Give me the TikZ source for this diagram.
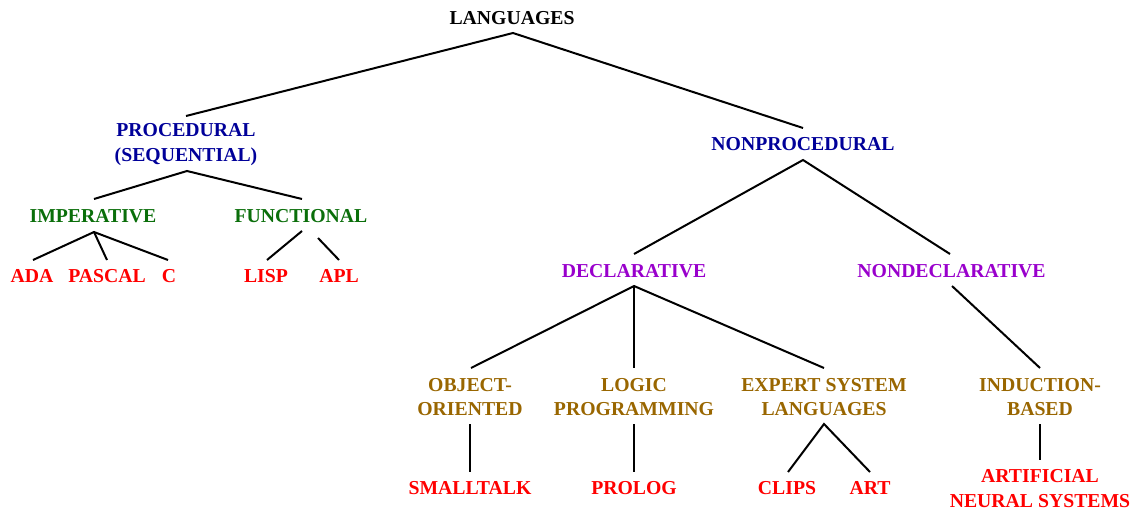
\documentclass[tikz,border=0pt]{standalone}
\usepackage{fontspec}
\setmainfont{Liberation Serif}
\usetikzlibrary{calc}
\definecolor{rootc}{RGB}{0,0,0}
\definecolor{lvlone}{RGB}{0,0,153}
\definecolor{lvlgreen}{RGB}{10,110,10}
\definecolor{lvlpurple}{RGB}{153,0,204}
\definecolor{lvlbrown}{RGB}{153,102,0}
\definecolor{leafred}{RGB}{255,0,0}
\begin{document}
\begin{tikzpicture}[x=0.75pt,y=-0.75pt,
  lbl/.style={inner sep=0pt,align=center,font=\fontsize{14.8}{18.5}\selectfont\bfseries},
  root/.style={lbl,text=rootc},
  cat/.style={lbl,text=lvlone},
  sub/.style={lbl,text=lvlgreen},
  kind/.style={lbl,text=lvlpurple},
  fam/.style={lbl,text=lvlbrown},
  leaf/.style={lbl,text=leafred},
  link/.style={line width=1.5pt,black}]
\useasboundingbox (0,0) rectangle (1134,510);

% labels
\node[root] (lang) at (512,18) {LANGUAGES};
\node[cat] (proc) at (186,144.5) {PROCEDURAL\\(SEQUENTIAL)};
\node[cat] (nonproc) at (803,144) {NONPROCEDURAL};
\node[sub] (imp) at (93,216) {IMPERATIVE};
\node[sub] (func) at (301,216) {FUNCTIONAL};
\node[leaf] (ada) at (32,276) {ADA};
\node[leaf] (pascal) at (107,276) {PASCAL};
\node[leaf] (c) at (169,276) {C};
\node[leaf] (lisp) at (266,276) {LISP};
\node[leaf] (apl) at (339,276) {APL};
\node[kind] (decl) at (634,271) {DECLARATIVE};
\node[kind] (nondecl) at (951.5,271) {NONDECLARATIVE};
\node[fam] (oo) at (470,397) {OBJECT-\\ORIENTED};
\node[fam] (logic) at (634,397) {LOGIC\\PROGRAMMING};
\node[fam] (expert) at (824,397) {EXPERT SYSTEM\\LANGUAGES};
\node[fam] (induct) at (1040,397) {INDUCTION-\\BASED};
\node[leaf] (small) at (470,488) {SMALLTALK};
\node[leaf] (prolog) at (634,488) {PROLOG};
\node[leaf] (clips) at (787,488) {CLIPS};
\node[leaf] (art) at (870,488) {ART};
\node[leaf] (ann) at (1040,488.5) {ARTIFICIAL\\NEURAL SYSTEMS};

% tree branches
\draw[link] ($(proc)+(0,-28.5)$) -- ($(lang)+(1,15)$) -- ($(nonproc)+(0,-16)$);
\draw[link] ($(imp)+(1,-17)$) -- ($(proc)+(1,26.5)$) -- ($(func)+(1,-17)$);
\draw[link] ($(ada)+(1,-16)$) -- ($(imp)+(1,16)$) -- ($(c)+(-1,-16)$);
\draw[link] ($(imp)+(1,16)$) -- ($(pascal)+(0,-16)$);
\draw[link] ($(func)+(1,15)$) -- ($(lisp)+(1,-16)$);
\draw[link] ($(func)+(17,22)$) -- ($(apl)+(0,-16)$);
\draw[link] ($(decl)+(0,-17)$) -- ($(nonproc)+(0,16)$) -- ($(nondecl)+(-1.5,-17)$);
\draw[link] ($(oo)+(1,-29)$) -- ($(decl)+(0,15)$) -- ($(expert)+(0,-29)$);
\draw[link] ($(decl)+(0,15)$) -- ($(logic)+(0,-29)$);
\draw[link] ($(nondecl)+(0.5,15)$) -- ($(induct)+(0,-29)$);
\draw[link] ($(oo)+(0,27)$) -- ($(small)+(0,-16)$);
\draw[link] ($(logic)+(0,27)$) -- ($(prolog)+(0,-16)$);
\draw[link] ($(clips)+(1,-16)$) -- ($(expert)+(0,27)$) -- ($(art)+(0,-16)$);
\draw[link] ($(induct)+(0,27)$) -- ($(ann)+(0,-28.5)$);
\end{tikzpicture}
\end{document}
